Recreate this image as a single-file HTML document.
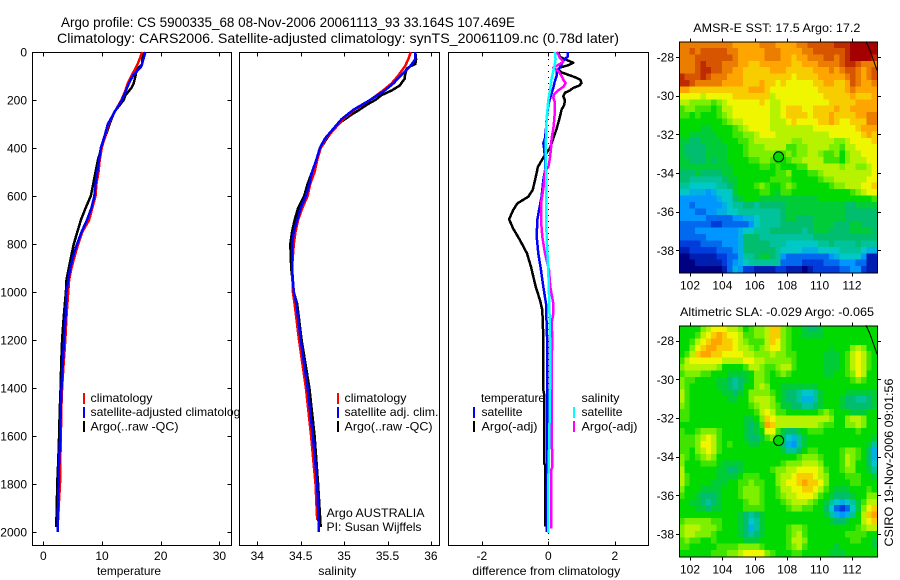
<!DOCTYPE html>
<html>
<head>
<meta charset="utf-8">
<title>Argo profile</title>
<style>
html,body{margin:0;padding:0;background:#fff;width:900px;height:580px;overflow:hidden}
svg{display:block}
text{font-family:"Liberation Sans",sans-serif;font-size:12px;fill:#000}
</style>
</head>
<body>
<svg id="fig" xmlns="http://www.w3.org/2000/svg" width="900" height="580" viewBox="0 0 900 580"></svg>
<script>
const depthTicks = [0,200,400,600,800,1000,1200,1400,1600,1800,2000];
const tempTicks = [0,10,20,30];
const salTicks = [34,34.5,35,35.5,36];
const diffTicks = [-2,0,2];
const lonTicks = [102,104,106,108,110,112];
const latTicks = [-28,-30,-32,-34,-36,-38];

const argoTempDepth = [0,50,60,70,100,130,150,180,200,250,300,350,400,450,500,550,600,650,700,750,800,850,900,950,1000,1100,1200,1300,1400,1500,1600,1700,1800,1900,1980];
const argoTemp = [16.84,16.84,16.5,15.8,15.7,15.4,15.0,14.0,13.7,12.1,11.3,10.6,9.9,9.3,8.9,8.5,8.1,7.2,6.4,5.8,5.2,4.75,4.35,3.95,3.85,3.5,3.2,3.05,2.95,2.8,2.7,2.55,2.37,2.3,2.2];
const satTempDepth = [0,30,60,100,130,200,250,300,350,400,450,500,550,600,650,700,750,800,850,900,950,1000,1100,1200,1300,1400,1500,1600,1700,1800,1900,2000];
const satTemp = [17.4,17.05,16.7,15.25,14.6,13.4,12.15,11.0,10.45,9.8,9.5,9.2,8.9,8.7,8.2,7.45,6.5,5.75,5.1,4.6,4.25,3.95,3.8,3.55,3.3,3.1,2.95,2.9,2.7,2.6,2.5,2.45];
const climTempDepth = [0,30,60,100,130,160,200,250,300,350,400,450,500,550,600,650,700,750,800,850,900,950,1000,1100,1200,1300,1400,1500,1600,1700,1800,1900,1950];
const climTemp = [16.85,16.4,15.9,15.0,14.4,14.0,13.3,12.15,11.1,10.55,9.95,9.6,9.4,9.05,8.9,8.35,7.8,6.65,5.95,5.35,4.8,4.4,4.25,3.95,3.75,3.45,3.2,3.05,3.0,2.9,2.85,2.6,2.55];

const argoSalDepth = [0,30,50,60,70,100,110,120,140,160,180,200,220,240,260,300,350,400,450,500,550,600,650,700,750,800,900,1000,1050,1200,1400,1600,1800,1980];
const argoSal = [35.82,35.83,35.82,35.76,35.72,35.70,35.70,35.68,35.64,35.55,35.43,35.36,35.26,35.18,35.09,34.93,34.82,34.73,34.68,34.63,34.58,34.54,34.47,34.43,34.40,34.38,34.39,34.42,34.46,34.51,34.60,34.66,34.70,34.73];
const satSalDepth = [0,30,60,100,130,160,200,240,280,320,360,400,450,500,550,600,650,700,750,800,900,1000,1050,1200,1400,1600,1800,2000];
const satSal = [35.82,35.82,35.76,35.65,35.57,35.47,35.30,35.11,34.97,34.875,34.78,34.72,34.68,34.63,34.60,34.56,34.50,34.46,34.42,34.40,34.40,34.42,34.45,34.50,34.58,34.64,34.69,34.71];
const climSalDepth = [0,30,60,100,130,160,200,240,280,320,360,400,450,500,550,600,650,700,750,800,900,1000,1050,1200,1400,1600,1800,1950];
const climSal = [35.77,35.74,35.70,35.62,35.55,35.45,35.30,35.12,34.99,34.89,34.79,34.73,34.69,34.66,34.61,34.58,34.52,34.47,34.44,34.42,34.40,34.41,34.43,34.48,34.56,34.62,34.67,34.69];

const diffArgoTempDepth = [0,20,30,45,55,65,75,85,95,105,115,130,140,150,160,170,185,200,220,240,280,320,360,400,440,480,492,534,575,603,631,659,697,735,784,839,895,978,1034,1075,1186,1325,1408,1422,1714,1720,1978];
const diffArgoTemp = [.30,.35,.50,.75,.60,.35,.30,.40,.60,.80,.96,1.0,.93,.75,.65,.50,.45,.50,.48,.40,.33,.25,.15,.05,-.15,-.32,-.33,-.40,-.47,-.60,-.93,-1.06,-1.18,-1.06,-.85,-.64,-.52,-.38,-.25,-.18,-.15,-.15,-.15,-.13,-.13,-.10,-.10];
const diffSatTempDepth = [0,20,35,50,65,80,100,130,150,180,220,280,320,360,380,400,440,480,492,534,603,659,700,770,839,909,978,1048,1186,1325,1800,2000];
const diffSatTemp = [.58,.58,.45,.40,.35,.25,.25,.18,.15,.08,0,-.05,-.07,-.10,-.15,-.13,-.10,-.10,-.10,-.15,-.20,-.28,-.33,-.35,-.30,-.22,-.15,-.07,-.04,-.04,-.04,-.05];
const diffArgoSalDepth = [0,10,25,40,50,65,80,100,115,130,145,160,175,190,210,240,280,320,360,400,440,480,492,562,631,700,770,839,909,978,1048,1090,1131,1186,1325,1547,1728,1745,1936,1985];
const diffArgoSal = [.25,.30,.35,.45,.35,.15,.30,.40,.45,.52,.45,.30,.18,.15,.20,.20,.18,.15,.10,.08,.05,0,-.10,-.14,-.22,-.22,-.18,-.10,.02,.06,.15,.15,.10,.12,.10,.10,.12,.08,.08,.08];
const diffSatSalDepth = [0,30,50,80,110,160,200,280,360,480,492,631,770,909,1048,1186,1325,1603,1797,2005];
const diffSatSal = [.20,.22,.20,.15,.10,.05,0,-.05,-.07,-.08,-.07,-.07,-.05,0,.03,.05,.06,.03,0,0];

const coastLon = [112.86,113.1,113.55];
const coastLat = [-27.2,-27.63,-28.7];
const floatLon = [107.469];
const floatLat = [-33.164];

const sstRows = [
[17,17,17,17,17,17,17,17,17,17,16,16,16,16,16,17,17,17,16,16,16,16,17,17,18,18,18,18,18,19,19,19,20,20,20,20,20],
[17,17,18,17,18,18,18,18,18,17,17,16,16,16,16,16,17,17,17,16,16,16,16,17,17,18,18,18,18,18,18,19,20,20,20,20,20],
[17,17,17,18,18,18,18,18,18,18,17,16,16,16,16,16,17,17,17,16,16,15,16,16,17,17,17,18,18,17,18,19,20,20,20,20,19],
[17,17,17,18,19,18,18,18,17,17,17,16,16,15,15,16,16,16,16,16,16,15,15,16,16,16,17,17,17,17,18,19,19,18,17,17,17],
[17,17,17,18,19,19,18,18,17,17,16,16,15,15,15,15,15,16,16,16,15,15,15,15,15,16,16,16,17,16,17,18,18,17,16,17,18],
[19,18,18,18,19,18,17,17,17,16,16,16,15,15,15,15,15,15,15,15,15,14,15,15,15,15,16,16,16,16,16,17,18,17,16,17,18],
[19,19,18,17,17,17,17,17,16,16,16,16,15,15,15,16,15,15,14,15,14,14,14,14,14,15,15,16,16,15,15,16,18,17,16,16,17],
[16,16,15,15,15,15,15,15,15,15,15,15,15,16,16,16,15,14,14,14,14,14,14,14,14,14,15,15,15,15,15,16,17,16,16,16,16],
[14,14,14,14,13,14,14,14,14,14,15,15,15,15,15,15,15,13,14,14,14,14,14,14,14,14,14,15,15,15,15,15,16,15,15,15,16],
[13,13,12,12,12,12,11,12,13,14,14,14,14,14,14,15,14,13,13,14,14,14,14,14,14,14,14,14,15,15,15,15,15,16,16,16,16],
[11,12,12,11,11,11,10,11,13,13,14,14,14,14,14,14,14,13,13,14,15,15,15,14,14,15,15,15,15,16,15,15,16,16,16,16,16],
[11,11,10,11,10,10,10,11,12,13,14,14,14,14,14,14,14,13,13,14,15,15,15,15,14,15,15,15,16,15,15,15,15,16,16,17,17],
[10,10,10,10,10,10,10,10,11,12,13,13,14,14,14,14,14,13,13,13,14,15,14,14,14,14,15,15,16,15,14,14,15,15,15,17,17],
[10,10,10,10,9,9,10,10,10,10,11,12,13,14,14,14,14,13,13,13,13,13,13,13,13,14,14,14,14,14,14,14,14,15,16,16,16],
[10,10,9,9,9,9,9,10,10,10,11,11,12,12,13,14,14,14,13,13,13,13,13,13,13,13,13,13,14,14,14,14,14,14,15,16,15],
[9,9,8,8,9,9,9,9,10,10,10,11,11,12,13,13,13,13,13,13,13,12,12,13,13,13,13,13,13,12,12,13,14,14,14,14,15],
[9,8,8,8,8,9,9,9,9,10,10,10,11,12,12,12,13,13,13,13,11,11,12,12,13,13,13,13,12,12,11,13,13,14,14,14,14],
[9,8,8,8,8,9,9,9,9,10,10,10,11,12,12,12,12,12,11,11,12,11,12,12,13,13,12,11,11,12,10,12,13,13,14,14,14],
[9,9,8,8,8,9,8,9,9,10,10,10,10,11,11,12,12,11,10,10,11,12,12,13,13,13,13,11,11,11,10,12,13,13,13,14,14],
[9,9,9,9,9,9,9,9,9,9,10,10,10,10,10,11,11,10,11,10,10,10,11,11,13,13,13,13,13,13,12,13,13,12,12,13,14],
[8,8,8,9,8,8,8,8,9,9,10,10,10,10,10,10,10,10,11,11,12,10,10,10,11,11,12,13,13,13,13,13,13,13,13,13,14],
[8,8,7,7,7,7,7,7,8,9,9,10,10,10,10,10,10,11,11,11,11,10,10,10,10,10,11,12,12,13,13,13,13,13,13,14,14],
[7,7,6,6,6,6,6,7,7,8,9,10,10,10,11,12,11,10,10,11,12,11,10,10,10,10,10,10,11,12,12,13,13,13,14,14,15],
[6,6,5,5,5,4,5,6,6,6,9,10,10,10,10,11,11,10,9,11,11,10,10,10,10,10,10,10,10,10,10,10,11,12,13,14,14],
[4,4,4,4,4,4,4,5,6,6,8,9,10,10,10,9,9,9,9,9,9,9,9,9,9,9,10,10,10,10,10,10,10,10,10,10,11],
[4,4,3,4,4,4,4,4,5,6,7,7,8,8,7,8,8,8,8,8,9,9,9,9,9,9,9,9,9,9,9,8,8,9,9,9,9],
[4,4,4,3,3,4,4,5,5,6,6,7,7,7,7,7,7,7,7,8,9,9,9,9,9,9,9,9,9,9,9,8,8,8,8,8,8],
[4,4,4,4,4,3,3,3,3,3,4,4,5,5,6,7,7,7,7,8,9,9,8,8,8,9,9,9,9,9,9,8,8,8,8,8,8],
[3,3,3,3,3,3,2,2,3,3,3,3,3,4,6,7,7,7,7,8,8,8,8,8,8,9,9,9,9,8,8,8,9,9,8,8,8],
[3,3,3,4,4,4,4,4,4,4,4,5,6,6,7,7,7,8,8,8,8,8,8,7,8,9,9,9,8,8,8,8,9,9,9,9,8],
[3,3,3,3,3,4,4,4,4,4,4,5,8,8,8,7,7,7,7,7,7,7,7,7,7,8,8,8,8,8,8,8,8,8,8,8,8],
[2,2,2,2,3,3,3,3,4,4,4,5,8,8,8,8,8,7,7,7,6,6,6,6,6,6,7,7,8,7,7,7,7,8,7,7,7],
[1,1,2,2,2,2,2,3,3,3,4,5,8,8,8,8,8,8,7,6,6,6,6,5,5,5,6,6,6,6,7,7,7,7,6,5,5],
[0,0,1,1,1,1,1,2,2,3,3,5,7,7,8,9,9,8,7,4,3,3,3,3,3,3,3,3,4,5,6,6,6,6,4,1,1],
[0,0,0,1,1,1,1,1,2,3,4,5,6,7,7,7,7,7,7,3,3,3,3,2,2,2,2,3,3,3,4,4,4,3,3,1,1],
[0,0,0,0,0,0,0,0,1,3,5,4,2,2,1,1,1,1,2,2,1,1,1,0,1,2,2,2,2,2,3,3,4,4,2,1,1]
];

const slaRows = [
[10,10,10,10,12,13,14,14,14,13,13,12,10,11,12,12,13,15,15,12,11,10,10,9,8,8,9,10,10,10,10,10,10,10,10,10,10],
[10,10,10,11,13,14,15,16,15,14,14,13,11,11,12,12,13,15,15,12,11,10,10,9,9,9,9,10,10,10,10,10,10,10,10,10,10],
[10,10,11,13,14,15,16,16,15,15,14,13,12,11,11,11,13,15,14,12,11,10,10,10,10,10,10,10,10,10,10,10,10,10,10,10,10],
[10,10,12,14,15,16,16,15,15,15,14,13,13,12,11,12,13,14,14,12,11,10,10,10,10,10,10,10,9,10,10,10,12,13,12,10,10],
[10,11,13,15,16,16,15,15,14,14,14,14,13,13,12,12,12,13,12,12,11,11,10,10,10,10,10,9,9,9,10,11,13,14,13,11,10],
[11,13,14,14,14,14,14,14,13,13,13,13,14,14,13,13,12,12,12,12,12,11,10,10,10,10,10,9,9,9,10,11,13,14,13,11,10],
[12,13,13,13,13,13,13,12,10,10,10,10,11,13,13,12,11,11,12,13,13,11,10,10,10,10,10,9,9,9,10,11,13,14,13,11,10],
[11,12,12,12,11,11,10,10,10,9,9,9,9,10,12,12,11,10,11,12,11,10,10,10,10,10,10,9,9,10,10,11,12,14,13,10,10],
[12,11,11,10,10,10,10,9,9,8,7,8,9,10,12,12,11,10,10,10,10,10,10,10,10,10,10,10,10,10,10,10,11,12,11,10,10],
[12,11,10,10,10,10,10,9,9,8,7,8,10,10,12,13,12,10,10,9,9,9,9,9,9,9,10,10,10,10,10,10,10,10,10,10,10],
[13,11,10,10,10,10,10,10,9,9,8,9,10,12,12,12,12,11,10,9,8,8,7,6,6,7,9,10,10,10,10,9,9,9,9,9,9],
[13,11,10,10,10,10,10,10,10,9,9,10,10,12,13,13,13,12,10,9,8,8,7,5,5,7,9,10,10,10,9,8,8,7,7,8,9],
[12,11,10,10,10,10,10,10,10,10,10,10,10,11,12,13,13,12,11,9,9,8,8,7,7,8,9,10,10,10,9,8,8,8,8,8,9],
[11,11,10,10,10,10,10,10,10,10,10,10,10,10,11,13,14,13,11,11,10,10,10,10,10,10,11,12,11,10,10,10,9,9,9,10,10],
[11,11,10,10,10,10,10,10,10,10,10,10,9,9,10,12,15,14,13,13,13,13,13,13,13,13,13,13,12,10,10,12,13,13,12,10,10],
[10,10,10,10,10,10,10,10,10,10,10,10,9,8,9,11,16,15,13,13,13,13,13,13,13,13,12,11,11,10,10,12,12,13,12,10,10],
[11,10,10,11,12,12,12,11,10,10,10,10,9,8,9,10,14,14,11,9,8,8,9,10,11,11,11,10,10,10,10,10,10,11,10,10,10],
[11,11,11,12,13,14,13,11,10,10,10,10,9,8,8,9,11,12,10,8,6,5,7,9,10,10,10,10,10,10,10,10,10,10,10,10,9],
[11,11,11,12,14,14,13,11,10,11,10,10,10,9,9,10,10,10,10,8,5,4,7,9,10,10,10,10,10,10,10,10,10,10,10,9,7],
[11,11,10,12,13,14,13,11,10,10,10,10,10,10,10,10,10,10,10,9,7,7,8,10,11,11,10,10,10,10,11,12,12,11,10,8,5],
[12,11,10,11,12,13,12,10,10,10,10,10,10,10,10,10,10,10,10,10,10,10,11,12,12,12,11,10,10,10,11,13,12,11,10,8,5],
[12,10,10,10,11,11,11,10,9,9,9,9,10,10,10,10,10,10,10,11,12,12,12,13,13,13,12,10,10,10,11,13,12,10,10,8,6],
[13,10,10,10,10,10,10,9,9,8,8,9,10,10,10,10,10,11,12,12,13,13,14,14,14,14,13,11,10,10,11,12,12,10,10,9,7],
[13,11,10,10,10,10,10,9,9,9,9,10,11,11,11,10,10,10,12,13,13,14,15,15,15,14,13,12,10,10,10,11,11,11,10,10,9],
[13,11,10,10,10,10,9,9,9,10,10,11,11,12,11,11,10,10,12,13,14,14,15,16,15,15,14,12,10,10,10,10,11,11,10,10,10],
[12,10,10,10,9,9,9,9,10,10,10,11,12,12,12,11,10,10,11,13,13,14,14,15,15,14,13,11,10,9,9,9,10,10,10,11,10],
[11,10,10,9,8,8,8,9,10,10,10,11,12,12,12,11,10,10,11,12,13,13,14,14,14,13,11,10,9,8,8,8,9,10,10,12,12],
[10,10,9,9,8,7,8,9,10,10,10,10,11,12,12,11,10,10,10,11,12,13,13,13,12,11,10,9,7,6,5,6,7,9,11,13,13],
[10,10,10,9,9,8,9,9,10,10,10,10,11,11,11,11,10,10,10,10,11,12,12,11,11,10,10,8,6,3,2,3,6,9,12,14,15],
[10,10,10,10,10,10,10,10,10,10,10,9,8,7,8,9,10,10,10,10,10,10,10,10,10,10,10,9,7,5,4,5,7,10,13,15,16],
[11,12,12,12,12,12,11,11,10,10,10,9,8,6,7,9,10,10,10,10,10,10,10,10,10,10,10,10,9,8,8,9,10,10,13,14,15],
[12,13,13,13,12,12,12,11,10,10,10,9,8,5,7,9,10,10,10,10,11,12,12,11,10,10,10,10,10,10,10,10,10,11,12,13,13],
[12,13,13,12,12,12,11,10,10,10,10,9,8,7,8,9,10,10,10,10,11,12,13,11,10,10,10,10,10,10,10,11,11,11,11,10,10],
[11,12,11,11,10,10,11,10,10,10,10,10,9,9,9,10,10,10,10,10,11,13,13,12,10,10,10,10,10,10,10,10,11,11,10,10,9],
[11,11,10,10,10,10,10,11,11,11,11,12,12,12,12,11,10,10,10,10,11,12,13,11,10,10,10,10,10,9,10,10,10,10,10,10,9],
[10,10,10,10,10,10,11,11,11,12,12,13,14,14,14,14,12,11,10,10,10,11,11,10,10,10,10,10,9,9,9,10,10,10,10,10,10]
];

const NS = 'http://www.w3.org/2000/svg';
const fig = document.getElementById('fig');
const PALETTE = [[0,0,130],[0,60,220],[0,150,255],[0,200,200],[0,190,110],[0,218,0],[125,240,0],[240,245,0],[255,165,0],[215,85,0],[165,0,0]];

function make(tag, attrs, parent){
  const el = document.createElementNS(NS, tag);
  for (const k in attrs) el.setAttribute(k, attrs[k]);
  (parent || fig).appendChild(el);
  return el;
}
function levelColor(v){
  const t = Math.max(0, Math.min(10, v / 2));
  const i = Math.min(9, Math.floor(t));
  const f = t - i;
  const c = [0,1,2].map(k => Math.round(PALETTE[i][k] + (PALETTE[i+1][k] - PALETTE[i][k]) * f));
  return 'rgb(' + c.join(',') + ')';
}
const depthY = d => 52 + 0.24 * d;
const tempX = v => 43.3 + 5.87 * v;
const salX = v => 257.3 + 86.8 * (v - 34);
const diffX = v => 548.3 + 33.25 * v;
const lonX = v => 690 + 16.2 * (v - 102);

function label(str, x, y, anchor, len, name, size){
  const attrs = {x:x, y:y, 'text-anchor':anchor || 'start'};
  if (len) { attrs.textLength = len; attrs.lengthAdjust = 'spacingAndGlyphs'; }
  const el = make('text', attrs);
  el.textContent = str;
  if (size) el.style.fontSize = size + 'px';
  
  
  return el;
}
function seg(x1, y1, x2, y2, name){
  const el = make('line', {x1:x1, y1:y1, x2:x2, y2:y2, stroke:'#000', 'stroke-width':1, 'shape-rendering':'crispEdges'});
  
  
  return el;
}
function panelBox(x, y, w, h, name){
  const bg = make('rect', {x:x, y:y, width:w, height:h, fill:'#fff', stroke:'#000', 'stroke-width':1, 'shape-rendering':'crispEdges'});
  
  
}
function profile(depths, values, xf, color, name){
  const pts = depths.map((d, i) => xf(values[i]).toFixed(1) + ',' + depthY(d).toFixed(1)).join(' ');
  const el = make('polyline', {points:pts, fill:'none', stroke:color, 'stroke-width':2.5, 'shape-rendering':'crispEdges', 'stroke-linejoin':'round'});
  
  
}
function legendBar(x, y, color, name){
  const el = make('rect', {x:x, y:y, width:2, height:11, fill:color, 'shape-rendering':'crispEdges'});
  
  
}
function xTicksInner(ticks, xf, name){
  ticks.forEach(t => {
    const x = Math.round(xf(t)) + 0.5;
    seg(x, 52.5, x, 56.5, name + '-tick-top');
    seg(x, 545.5, x, 541.5, name + '-tick-bottom');
    label(String(t), xf(t), 560, 'middle', 0, name + '-tick-label');
  });
}

/* Title */
label('Argo profile: CS 5900335_68 08-Nov-2006 20061113_93 33.164S 107.469E', 61, 27, 'start', 454, 'title-line-1', 14);
label('Climatology: CARS2006. Satellite-adjusted climatology: synTS_20061109.nc (0.78d later)', 57, 43, 'start', 562, 'title-line-2', 14);

/* Temperature panel */
panelBox(32.5, 52.5, 199, 493, 'temperature-axes');
depthTicks.forEach(d => {
  const y = Math.floor(depthY(d)) + 0.5;
  seg(32.5, y, 36.5, y, 'depth-tick-left');
  seg(231.5, y, 227.5, y, 'depth-tick-right');
  label(String(d), 27, depthY(d) + 4.5, 'end', 0, 'depth-tick-label');
});
xTicksInner(tempTicks, tempX, 'temperature');
label('temperature', 129, 575, 'middle', 64, 'temperature-axis-title');
profile(argoTempDepth, argoTemp, tempX, '#000', 'temperature-argo-line');
profile(climTempDepth, climTemp, tempX, '#f00', 'temperature-climatology-line');
profile(satTempDepth, satTemp, tempX, '#00f', 'temperature-satellite-line');
legendBar(83, 393, '#f00', 'legend-bar-climatology');
legendBar(83, 407, '#00f', 'legend-bar-satellite');
legendBar(83, 421, '#000', 'legend-bar-argo');
label('climatology', 90.5, 402, 'start', 62, 'legend-climatology');
label('satellite-adjusted climatology', 90.5, 416, 'start', 156, 'legend-satellite-adjusted');
label('Argo(..raw -QC)', 90.5, 430.5, 'start', 88, 'legend-argo-raw');

/* Salinity panel */
panelBox(239.5, 52.5, 200, 493, 'salinity-axes');
xTicksInner(salTicks, salX, 'salinity');
label('salinity', 337.3, 575, 'middle', 38, 'salinity-axis-title');
profile(argoSalDepth, argoSal, salX, '#000', 'salinity-argo-line');
profile(climSalDepth, climSal, salX, '#f00', 'salinity-climatology-line');
profile(satSalDepth, satSal, salX, '#00f', 'salinity-satellite-line');
legendBar(337, 393, '#f00', 'salinity-legend-bar-climatology');
legendBar(337, 407, '#00f', 'salinity-legend-bar-satellite');
legendBar(337, 421, '#000', 'salinity-legend-bar-argo');
label('climatology', 344.5, 402, 'start', 62, 'salinity-legend-climatology');
label('satellite adj. clim.', 344.5, 416, 'start', 94, 'salinity-legend-satellite');
label('Argo(..raw -QC)', 344.5, 430.5, 'start', 88, 'salinity-legend-argo');
label('Argo AUSTRALIA', 326.5, 517, 'start', 98, 'argo-program-note');
label('PI: Susan Wijffels', 326.5, 531, 'start', 95, 'principal-investigator-note');

/* Difference panel */
panelBox(448.5, 52.5, 200, 493, 'difference-axes');
const zeroX = Math.round(diffX(0)) + 0.5;
const zeroLine = make('line', {x1:zeroX, y1:53, x2:zeroX, y2:545, stroke:'#000', 'stroke-width':1, 'stroke-dasharray':'1 5', 'shape-rendering':'crispEdges'});


xTicksInner(diffTicks, diffX, 'difference');
label('difference from climatology', 546.3, 575, 'middle', 148, 'difference-axis-title');
profile(diffArgoTempDepth, diffArgoTemp, diffX, '#000', 'difference-argo-temperature-line');
profile(diffSatTempDepth, diffSatTemp, diffX, '#00f', 'difference-satellite-temperature-line');
profile(diffArgoSalDepth, diffArgoSal, diffX, '#f0f', 'difference-argo-salinity-line');
profile(diffSatSalDepth, diffSatSal, diffX, '#0ff', 'difference-satellite-salinity-line');
label('temperature', 481, 402, 'start', 64, 'legend-temperature-heading');
label('satellite', 481.5, 416, 'start', 41, 'legend-temperature-satellite');
label('Argo(-adj)', 481.5, 430.5, 'start', 56, 'legend-temperature-argo');
label('salinity', 581.5, 402, 'start', 38, 'legend-salinity-heading');
label('satellite', 581.5, 416, 'start', 41, 'legend-salinity-satellite');
label('Argo(-adj)', 581.5, 430.5, 'start', 56, 'legend-salinity-argo');
legendBar(473, 407, '#00f', 'legend-bar-temperature-satellite');
legendBar(473, 421, '#000', 'legend-bar-temperature-argo');
legendBar(573, 407, '#0ff', 'legend-bar-salinity-satellite');
legendBar(573, 421, '#f0f', 'legend-bar-salinity-argo');

/* Maps */
function drawMap(rows, top, height, refY, name, markerColor){
  const left = 679, right = 877;
  const latY = v => refY + 19.33 * (-28 - v);
  const ch = height / rows.length;
  rows.forEach((row, r) => {
    const cw = (right - left) / row.length;
    row.forEach((v, c) => {
      const cell = make('rect', {x:(left + c * cw).toFixed(2), y:(top + r * ch).toFixed(2), width:(cw + 0.6).toFixed(2), height:(ch + 0.6).toFixed(2), fill:levelColor(v), 'shape-rendering':'crispEdges'});
      
      
    });
  });
  const coast = make('polyline', {points:coastLon.map((l, i) => lonX(l).toFixed(1) + ',' + latY(coastLat[i]).toFixed(1)).join(' '), fill:'none', stroke:'#000', 'stroke-width':1});
  
  
  const frame = make('rect', {x:left + 0.5, y:top + 0.5, width:right - left, height:height, fill:'none', stroke:'#000', 'stroke-width':1, 'shape-rendering':'crispEdges'});
  
  
  lonTicks.forEach(l => {
    const x = Math.round(lonX(l)) + 0.5;
    seg(x, top + 0.5, x, top - 3, name + '-lon-tick-top');
    seg(x, top + height + 0.5, x, top + height + 4, name + '-lon-tick-bottom');
    label(String(l), lonX(l), top + height + 17, 'middle', 0, name + '-lon-label');
  });
  latTicks.forEach(l => {
    const y = Math.round(latY(l)) + 0.5;
    seg(left + 0.5, y, left - 3, y, name + '-lat-tick-left');
    seg(right + 0.5, y, right + 4, y, name + '-lat-tick-right');
    label(String(l), 674, latY(l) + 4.5, 'end', 0, name + '-lat-label');
  });
  const marker = make('circle', {cx:lonX(floatLon[0]).toFixed(1), cy:latY(floatLat[0]).toFixed(1), r:5, fill:markerColor, stroke:'#000', 'stroke-width':1});
  
  
}
label('AMSR-E SST: 17.5 Argo: 17.2', 693.3, 32, 'start', 167, 'sst-map-title');
drawMap(sstRows, 41.5, 231, 57, 'sst-map', levelColor(10));
label('Altimetric SLA: -0.029 Argo: -0.065', 680, 316, 'start', 194, 'sla-map-title');
drawMap(slaRows, 325.5, 231, 340.7, 'sla-map', levelColor(10));

const stamp = make('text', {x:0, y:0, transform:'translate(893,546.5) rotate(-90)', textLength:168, lengthAdjust:'spacingAndGlyphs'});
stamp.textContent = 'CSIRO 19-Nov-2006 09:01:56';


</script>
</body>
</html>
